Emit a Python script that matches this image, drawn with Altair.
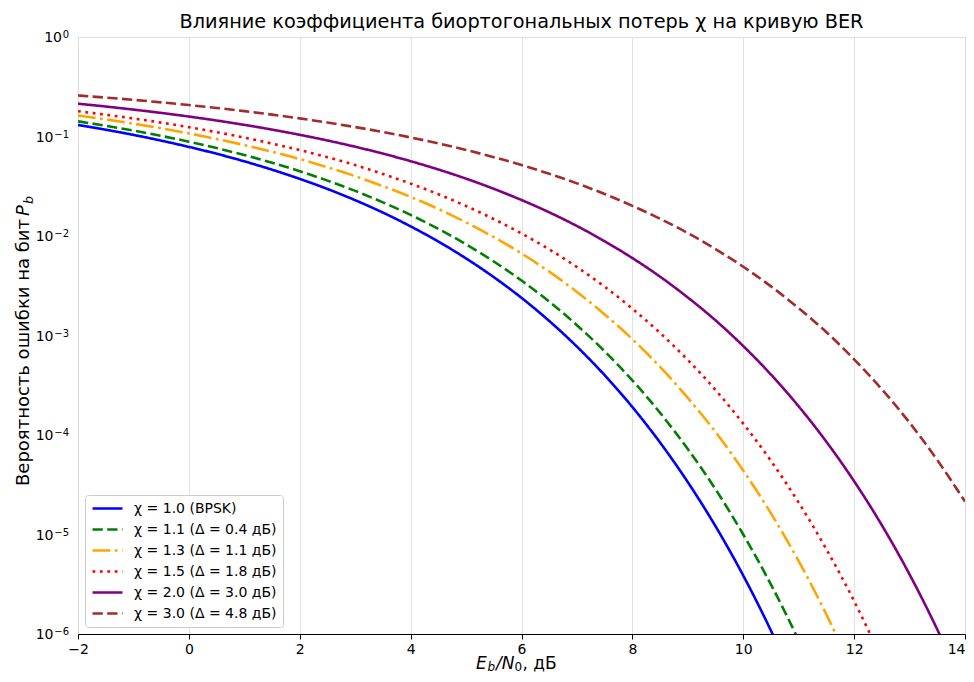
import altair as alt
import pandas as pd

# ---- data ----
EBN0_DB = [-2.0, -1.5, -1.0, -0.5, 0.0, 0.5, 1.0, 1.5, 2.0, 2.5, 3.0, 3.5, 4.0, 4.5,
           5.0, 5.5, 6.0, 6.5, 7.0, 7.5, 8.0, 8.5, 9.0, 9.5, 10.0, 10.5, 11.0, 11.5,
           12.0, 12.5, 13.0, 13.5, 14.0]

BER_CHI_1_0 = [0.1306, 0.1170, 0.1038, 0.0909, 0.0786, 0.0671, 0.0563, 0.0464, 0.0375,
               0.0297, 0.0229, 0.0172, 0.0125, 0.00879, 0.00595, 0.00386, 0.00239,
               0.00140, 7.73e-4, 3.99e-4, 1.91e-4, 8.40e-5, 3.36e-5, 1.21e-5, 3.87e-6,
               1.08e-6, 2.61e-7]
BER_CHI_1_1 = [0.1421, 0.1282, 0.1147, 0.1015, 0.0887, 0.0766, 0.0651, 0.0545, 0.0448,
               0.0360, 0.0284, 0.0218, 0.0163, 0.0118, 0.00825, 0.00554, 0.00357,
               0.00219, 0.00127, 6.93e-4, 3.54e-4, 1.67e-4, 7.22e-5, 2.85e-5, 1.00e-5,
               3.14e-6, 8.6e-7, 2.0e-7]
BER_CHI_1_3 = [0.1623, 0.1484, 0.1345, 0.1208, 0.1075, 0.0944, 0.0820, 0.0702, 0.0593,
               0.0491, 0.0399, 0.0317, 0.0247, 0.0187, 0.0137, 0.00973, 0.00667,
               0.00438, 0.00274, 0.00163, 9.18e-4, 4.83e-4, 2.36e-4, 1.07e-4, 4.39e-5,
               1.63e-5, 5.4e-6, 1.57e-6, 3.95e-7]
BER_CHI_1_5 = [0.1796, 0.1655, 0.1517, 0.1379, 0.1241, 0.1106, 0.0975, 0.0849, 0.0730,
               0.0619, 0.0516, 0.0420, 0.0336, 0.0263, 0.0200, 0.0148, 0.0106,
               0.00734, 0.00487, 0.00309, 0.00186, 0.00106, 5.68e-4, 2.83e-4, 1.30e-4,
               5.49e-5, 2.09e-5, 7.1e-6, 2.14e-6, 5.6e-7]
BER_CHI_2_0 = [0.2136, 0.2001, 0.1863, 0.1726, 0.1587, 0.1448, 0.1309, 0.1173, 0.1040,
               0.0912, 0.0789, 0.0673, 0.0565, 0.0466, 0.0377, 0.0298, 0.0230, 0.0173,
               0.0126, 0.00886, 0.00600, 0.00390, 0.00241, 0.00142, 7.83e-4, 4.05e-4,
               1.94e-4, 8.55e-5, 3.43e-5, 1.24e-5, 3.97e-6, 1.11e-6, 2.7e-7]
BER_CHI_3_0 = [0.2583, 0.2461, 0.2336, 0.2204, 0.2071, 0.1936, 0.1798, 0.1659, 0.1520,
               0.1381, 0.1244, 0.1109, 0.0978, 0.0852, 0.0732, 0.0620, 0.0517, 0.0422,
               0.0338, 0.0264, 0.0201, 0.0149, 0.0107, 0.00739, 0.00491, 0.00312,
               0.00188, 0.00108, 5.76e-4, 2.88e-4, 1.33e-4, 5.6e-5, 2.14e-5]

SERIES_LABELS = [
    "χ = 1.0 (BPSK)",
    "χ = 1.1 (Δ = 0.4 дБ)",
    "χ = 1.3 (Δ = 1.1 дБ)",
    "χ = 1.5 (Δ = 1.8 дБ)",
    "χ = 2.0 (Δ = 3.0 дБ)",
    "χ = 3.0 (Δ = 4.8 дБ)",
]
SERIES_VALUES = [BER_CHI_1_0, BER_CHI_1_1, BER_CHI_1_3, BER_CHI_1_5, BER_CHI_2_0, BER_CHI_3_0]
SERIES_COLORS = ["#0000ff", "#008000", "#ffa500", "#ff0000", "#800080", "#a52a2a"]
SERIES_DASHES = [[1, 0], [10.3, 4.4], [17.8, 4.4, 2.8, 4.4], [2.8, 4.6], [1, 0], [10.3, 4.4]]

X_TICKS = [-2, 0, 2, 4, 6, 8, 10, 12, 14]
Y_DECADES = [-6, -5, -4, -3, -2, -1, 0]
Y_DECADE_EXP = ["−6", "−5", "−4", "−3", "−2", "−1", "0"]
Y_DECADE_BASE = "10"
Y_MINOR_MULT = [2, 3, 4, 5, 6, 7, 8, 9]

TITLE = "Влияние коэффициента биортогональных потерь χ на кривую BER"
Y_TITLE_MAIN = "Вероятность ошибки на бит"
Y_TITLE_VAR = "P"
Y_TITLE_SUB = "b"
X_TITLE_PARTS = ["E", "b", "/N", "0", ", дБ"]

# ---- tables ----
rows = []
for lab, vals in zip(SERIES_LABELS, SERIES_VALUES):
    for xv, yv in zip(EBN0_DB, vals):
        rows.append({"x": xv, "y": yv, "series": lab})
df = pd.DataFrame(rows)

y_major = [10.0 ** e for e in Y_DECADES]
y_minor = [m * 10.0 ** e for e in Y_DECADES[:-1] for m in Y_MINOR_MULT]
y_ticks = sorted(y_major + y_minor)
dec_df = pd.DataFrame({"v": y_major, "exp": Y_DECADE_EXP, "base": [Y_DECADE_BASE] * len(y_major)})

is_major = "abs(log(datum.value)/LN10 - round(log(datum.value)/LN10)) < 0.001"

FONT = "DejaVu Sans"
Y_SCALE = alt.Scale(type="log", domain=[1e-6, 1], nice=False)

LEGEND = alt.Legend(title=None, orient="bottom-left", offset=7,
                    symbolType="stroke", symbolSize=900,
                    symbolStrokeWidth=2.6, clipHeight=15,
                    labelFontSize=14, labelFont=FONT, labelColor="black",
                    labelOffset=10, rowPadding=6,
                    padding=6, fillColor="rgba(255,255,255,0.85)",
                    strokeColor="#cccccc", cornerRadius=3)

lines = alt.Chart(df).mark_line(clip=True, strokeWidth=2.6, interpolate="monotone").encode(
    x=alt.X("x:Q",
            scale=alt.Scale(domain=[-2, 14], nice=False, zero=False),
            axis=alt.Axis(values=X_TICKS, title="", labelExpr="replace(datum.label, '-', '−')",
                          labelAlign={"condition": {"test": "datum.value > 13", "value": "right"},
                                      "value": "center"},
                          grid=True, gridColor="#dcdcdc", gridWidth=0.8,
                          tickSize=5, tickColor="black", tickWidth=1,
                          domainColor="black", domainWidth=1,
                          labelFontSize=14, labelFont=FONT, labelColor="black",
                          labelPadding=3, labelFlush=False)),
    y=alt.Y("y:Q", scale=Y_SCALE,
            axis=alt.Axis(values=y_ticks, title="", labels=False,
                          grid=True,
                          gridColor={"condition": {"test": is_major, "value": "#dcdcdc"}, "value": "#ececec"},
                          gridWidth=0.8,
                          tickSize={"condition": {"test": is_major, "value": 5}, "value": 3},
                          tickColor="black", tickWidth=1,
                          domainColor="black", domainWidth=1)),
    color=alt.Color("series:N",
                    scale=alt.Scale(domain=SERIES_LABELS, range=SERIES_COLORS),
                    sort=SERIES_LABELS, legend=LEGEND),
    strokeDash=alt.StrokeDash("series:N",
                              scale=alt.Scale(domain=SERIES_LABELS, range=SERIES_DASHES),
                              sort=SERIES_LABELS, legend=LEGEND),
    detail="series:N",
)

# y tick labels "10" with superscript exponent, placed through the y scale
dec = alt.Chart(dec_df)
y_exp = dec.mark_text(align="right", baseline="alphabetic", fontSize=10, font=FONT,
                      color="black", dy=1).encode(
    y=alt.Y("v:Q", scale=Y_SCALE, axis=None), x=alt.value(-9), text="exp:N")
y_base_neg = dec.transform_filter("datum.v < 0.5").mark_text(
    align="right", baseline="middle", fontSize=14, font=FONT, color="black", dy=1).encode(
    y=alt.Y("v:Q", scale=Y_SCALE, axis=None), x=alt.value(-24.5), text="base:N")
y_base_zero = dec.transform_filter("datum.v > 0.5").mark_text(
    align="right", baseline="middle", fontSize=14, font=FONT, color="black", dy=1).encode(
    y=alt.Y("v:Q", scale=Y_SCALE, axis=None), x=alt.value(-16), text="base:N")

one = pd.DataFrame({"k": [0]})


def txt(s, x, y, size, italic=False, align="left", angle=0):
    kw = dict(text=s, align=align, baseline="alphabetic", fontSize=size, font=FONT, color="black")
    if italic:
        kw["fontStyle"] = "italic"
    if angle:
        kw["angle"] = angle
    return alt.Chart(one).mark_text(**kw).encode(x=alt.value(x), y=alt.value(y))


# chart title as a text mark (keeps it inside the canvas)
title = txt(TITLE, 443.5, -9, 19.3, align="center")

# axis titles built from pieces (italic variables and subscripts)
XB = 631.5
x_title = (
    txt(X_TITLE_PARTS[0], 398, XB, 17, italic=True)
    + txt(X_TITLE_PARTS[1], 409.5, XB + 2.5, 12, italic=True)
    + txt(X_TITLE_PARTS[2], 418, XB, 17, italic=True)
    + txt(X_TITLE_PARTS[3], 436.5, XB + 2.5, 12)
    + txt(X_TITLE_PARTS[4], 444.5, XB, 17)
)
y_title = (
    txt(Y_TITLE_MAIN, -49, 182, 18, align="right", angle=270)
    + txt(Y_TITLE_VAR, -49, 179, 18, italic=True, angle=270)
    + txt(Y_TITLE_SUB, -45.5, 167, 12.6, italic=True, angle=270)
)

chart = alt.layer(lines, y_exp, y_base_neg, y_base_zero, title, x_title, y_title).properties(
    width=887, height=597,
    autosize=alt.AutoSizeParams(type="none"),
    padding={"left": 70, "top": 29, "right": 1, "bottom": 40},
).configure_view(stroke="black", strokeWidth=1.1).configure(background="white")

chart.save("out.html", embed_options={"renderer": "svg", "actions": False})
